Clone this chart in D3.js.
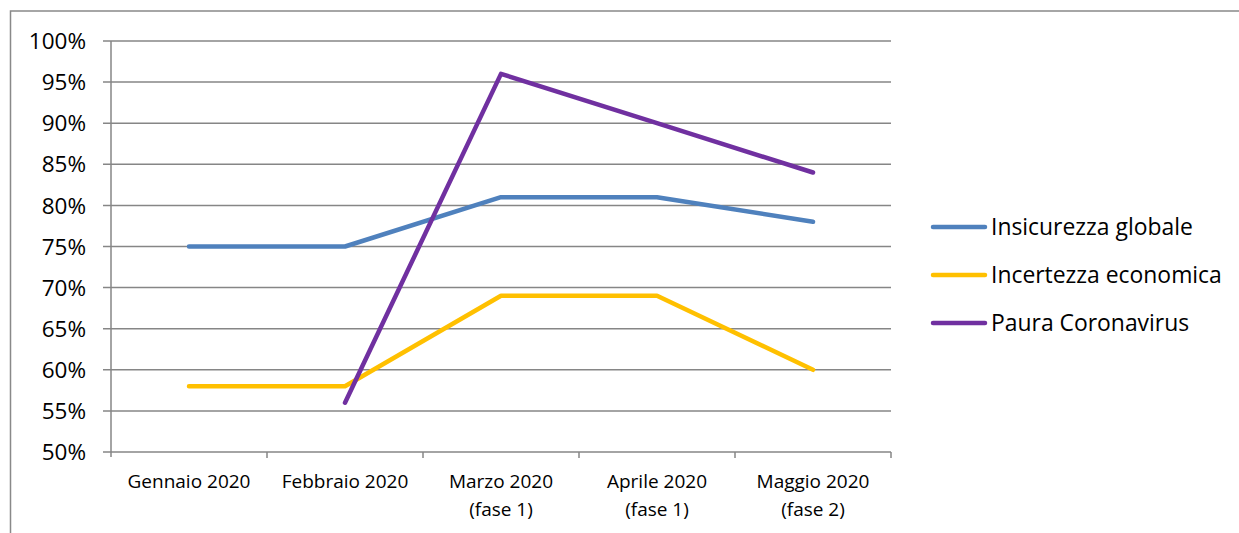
<!DOCTYPE html>
<html><head><meta charset="utf-8">
<script src="https://cdn.jsdelivr.net/npm/d3@7"></script>
<style>body{margin:0;background:#fff;} svg{display:block;}</style>
</head><body>
<script>
const categories = [["Gennaio 2020"],["Febbraio 2020"],["Marzo 2020","(fase 1)"],["Aprile 2020","(fase 1)"],["Maggio 2020","(fase 2)"]];
const seriesNames = ["Insicurezza globale","Incertezza economica","Paura Coronavirus"];
const insicurezza = [75,75,81,81,78];
const incertezza = [58,58,69,69,60];
const paura = [null,56,96,90,84];
const yTicks = [50,55,60,65,70,75,80,85,90,95,100];
const colors = ["#4F81BD","#FFC000","#7030A0"];
const allSeries = [insicurezza, incertezza, paura];

(function(){
const W=1239,H=533;
const svg=d3.select("body").append("svg").attr("width",W).attr("height",H);
const font="'Open Sans', sans-serif";
svg.append("rect").attr("x",10.5).attr("y",11).attr("width",1240).attr("height",540)
  .attr("fill","none").attr("stroke","#898989").attr("stroke-width",1.5);

const pl=111,pr=891,pt=41,pb=452;
const x=d3.scaleBand().domain(d3.range(categories.length)).range([pl,pr]);
const y=d3.scaleLinear().domain([50,100]).range([pb,pt]);
const grid="#868686";
svg.append("g").selectAll("line").data(yTicks).join("line")
  .attr("x1",pl-8).attr("x2",pr).attr("y1",d=>y(d)).attr("y2",d=>y(d))
  .attr("stroke",grid).attr("stroke-width",1.5);
svg.append("line").attr("x1",pl).attr("x2",pl).attr("y1",pt).attr("y2",pb+5).attr("stroke",grid).attr("stroke-width",1.5);
const bounds=d3.range(categories.length+1).map(i=>pl+i*x.bandwidth());
svg.append("g").selectAll("line").data(bounds.slice(1)).join("line")
  .attr("x1",d=>d).attr("x2",d=>d).attr("y1",pb).attr("y2",pb+6).attr("stroke",grid).attr("stroke-width",1.5);
svg.append("g").selectAll("text").data(yTicks).join("text")
  .attr("x",pl-25).attr("y",d=>y(d)).attr("dy","0.36em").attr("text-anchor","end")
  .attr("font-family",font).attr("font-size",22.5).attr("fill","#000").text(d=>d+"%");
const xl=svg.append("g").selectAll("text").data(categories).join("text")
  .attr("x",(d,i)=>x(i)+x.bandwidth()/2).attr("y",488).attr("text-anchor","middle")
  .attr("font-family",font).attr("font-size",19).attr("fill","#000");
xl.selectAll("tspan").data(d=>d).join("tspan").attr("x",function(){return this.parentNode.getAttribute("x");})
  .attr("dy",(d,i)=>i?"1.45em":0).text(d=>d);
const line=d3.line().defined(d=>d!=null).x((d,i)=>x(i)+x.bandwidth()/2).y(d=>y(d));
allSeries.forEach((s,k)=>{
  svg.append("path").attr("d",line(s)).attr("fill","none").attr("stroke",colors[k])
    .attr("stroke-width",4.5).attr("stroke-linejoin","round").attr("stroke-linecap","round");
});
const lg=svg.append("g");
seriesNames.forEach((n,k)=>{
  const ly=227+k*48;
  lg.append("line").attr("x1",933).attr("x2",985).attr("y1",ly).attr("y2",ly).attr("stroke",colors[k]).attr("stroke-width",4.5).attr("stroke-linecap","round");
  lg.append("text").attr("x",991).attr("y",ly).attr("dy","0.36em").attr("font-family",font).attr("font-size",22.9).attr("fill","#000").text(n);
});
})();
</script>
</body></html>
